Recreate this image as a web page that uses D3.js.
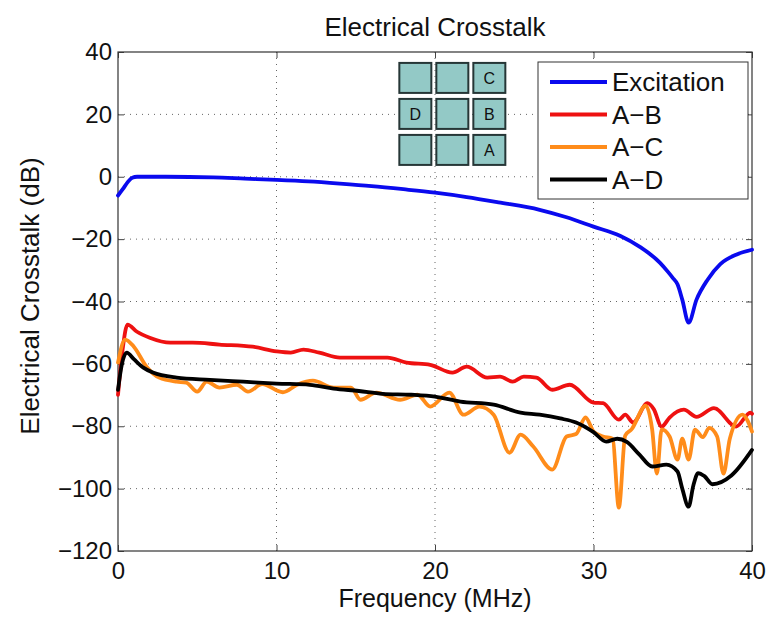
<!DOCTYPE html>
<html>
<head>
<meta charset="utf-8">
<script src="https://cdn.jsdelivr.net/npm/d3@7"></script>
<style>
  body { margin: 0; background: #fff; }
  text { font-family: "Liberation Sans", Arial, sans-serif; fill: #111; }
</style>
</head>
<body>
<div class="chart"></div>
<script>
// values: [frequency MHz, crosstalk dB]
var excitation = [
  [0,-6],[0.3,-4],[0.6,-1.8],[0.9,-0.3],[1.2,0],[3,0],[6,-0.2],[8,-0.6],[10,-1],
  [12,-1.5],[14,-2.2],[16,-3],[18,-4],[20,-5.1],[22,-6.5],[24,-8.2],[26.6,-10.6],
  [28.3,-13],[30,-16],[31.7,-19],[32.9,-22.4],[34.2,-27.6],[34.7,-30.5],[35,-32.4],
  [35.3,-34.5],[35.6,-39.4],[36,-46.8],[36.5,-39.4],[37.2,-33],[38,-28],[39,-25],[40,-23.4]
];
var crossAB = [
  [0,-69.9],[0.3,-55],[0.6,-47.4],[1.2,-49.7],[2,-51.6],[3.3,-53.2],[4.7,-53.2],
  [6.4,-53.8],[8.5,-54.5],[10,-56],[10.9,-56.4],[11.7,-55.4],[12.7,-56.4],[14,-58],
  [15.7,-58],[17,-58],[18.2,-59.6],[19.7,-60.3],[21.1,-62.8],[22,-60.9],[23.3,-64.4],
  [24.1,-64.1],[24.9,-65.7],[25.6,-64.1],[26.4,-64.4],[27.4,-68.3],[28.5,-66.7],
  [30,-72.4],[30.6,-72.6],[31.6,-77.9],[32,-76.3],[32.5,-78.8],[33.4,-72.6],[33.8,-74.5],
  [34.3,-80.1],[34.8,-77.2],[35.7,-74.7],[36.5,-77],[37.6,-74.2],[39,-80.1],[39.9,-75.6],[40,-76]
];
var crossAC = [
  [0,-59.6],[0.45,-52.2],[1,-54.5],[1.8,-60.9],[2.6,-64.4],[3.7,-65.7],[4.3,-66],
  [5,-68.9],[5.6,-65.7],[6.4,-67.6],[7.5,-66.7],[8.2,-68.9],[9.1,-66.5],[10.4,-69.1],
  [11.3,-66.7],[12.3,-65.4],[13.6,-67.6],[14.7,-67.6],[15.3,-71.5],[16.3,-69.2],
  [17.8,-71.5],[18.9,-69.9],[19.7,-73.7],[20.9,-69.2],[21.8,-76.3],[22.8,-73.7],
  [23.7,-76.3],[24.7,-88.5],[25.4,-82.7],[26.2,-86.5],[27.4,-93.9],[28.3,-83.3],
  [28.9,-82.5],[29.5,-77.2],[30,-81.7],[30.6,-83.3],[31.2,-84],[31.6,-106.1],[32,-83],
  [32.4,-81],[33.3,-73.4],[33.7,-81],[34,-95.2],[34.3,-81],[34.8,-83.3],[35.3,-90.7],
  [35.6,-84],[36,-90.7],[36.4,-81.1],[36.9,-83.5],[37.3,-80.5],[37.8,-83.3],[38.2,-95.2],
  [38.6,-84],[39.4,-76.3],[39.7,-78],[40,-81.7]
];
var crossAD = [
  [0,-68.3],[0.25,-60],[0.55,-56.4],[1,-58.5],[1.6,-61.2],[2.2,-62.8],[3.7,-64.4],
  [5.8,-65.1],[7.9,-65.7],[10,-66.3],[12.1,-66.7],[13.6,-67.9],[15.2,-68.7],[16.7,-69.6],
  [18.5,-69.9],[20,-70.5],[21.6,-72.1],[23.7,-73.1],[25.4,-75.6],[26.6,-76.3],[27.9,-77.5],
  [28.9,-78.8],[30,-81.9],[30.8,-84.9],[31.5,-84],[32.1,-85],[32.9,-89.1],[33.7,-92.9],
  [34.6,-92.3],[35.3,-94.5],[35.6,-100],[36,-105.8],[36.3,-99],[36.6,-95],[37,-96],
  [37.5,-98.6],[38.7,-95.8],[40,-87.6]
];
var seriesNames = ["Excitation", "A\u2212B", "A\u2212C", "A\u2212D"];
var seriesColors = ["#0a0aee", "#ee1111", "#ff8c1a", "#000000"];
var xTicks = [0, 10, 20, 30, 40];
var yTicks = [40, 20, 0, -20, -40, -60, -80, -100, -120];
// 3x3 element inset, row by row
var insetLabels = ["", "", "C", "D", "", "B", "", "", "A"];

var W = 771, H = 626;
var margin = {top: 52, right: 19, bottom: 75, left: 118};
var width = W - margin.left - margin.right,
    height = H - margin.top - margin.bottom;

var svg = d3.select("div.chart").append("svg")
    .attr("width", W).attr("height", H);

var x = d3.scaleLinear().domain([0, 40]).range([0, width]);
var y = d3.scaleLinear().domain([-120, 40]).range([height, 0]);

var g = svg.append("g")
    .attr("transform", "translate(" + margin.left + "," + margin.top + ")");

// dotted grid
g.append("g").selectAll("line")
  .data(xTicks.slice(1, -1))
  .enter().append("line")
    .attr("x1", function(d) { return x(d); })
    .attr("x2", function(d) { return x(d); })
    .attr("y1", 0).attr("y2", height)
    .attr("stroke", "#666").attr("stroke-width", 1)
    .attr("stroke-dasharray", "1,5");
g.append("g").selectAll("line")
  .data(yTicks.slice(1, -1))
  .enter().append("line")
    .attr("y1", function(d) { return y(d); })
    .attr("y2", function(d) { return y(d); })
    .attr("x1", 0).attr("x2", width)
    .attr("stroke", "#666").attr("stroke-width", 1)
    .attr("stroke-dasharray", "1,5");

// axes, ticks pointing inward like matlab
function styleAxis(sel, fs) {
  sel.select(".domain").remove();
  sel.selectAll(".tick line").attr("stroke", "#444");
  sel.selectAll(".tick text").attr("font-size", fs).attr("fill", "#111")
    .style("font-family", "'Liberation Sans', Arial, sans-serif");
}
g.append("g")
    .attr("transform", "translate(0," + height + ")")
    .call(d3.axisBottom(x).tickValues(xTicks).tickSizeInner(-6).tickSizeOuter(0).tickPadding(11))
    .call(styleAxis, 24);
g.append("g")
    .call(d3.axisLeft(y).tickValues(yTicks).tickSizeInner(-6).tickSizeOuter(0).tickPadding(6)
      .tickFormat(function(d) { return d < 0 ? "\u2212" + Math.abs(d) : d; }))
    .call(styleAxis, 24);
g.append("g")
    .call(d3.axisTop(x).tickValues(xTicks).tickSizeInner(-6).tickSizeOuter(0).tickFormat(""))
    .call(styleAxis, 24);
g.append("g")
    .attr("transform", "translate(" + width + ",0)")
    .call(d3.axisRight(y).tickValues(yTicks).tickSizeInner(-6).tickSizeOuter(0).tickFormat(""))
    .call(styleAxis, 24);

g.append("rect")
    .attr("width", width).attr("height", height)
    .attr("fill", "none").attr("stroke", "#333").attr("stroke-width", 1.2);

// curves
var line = d3.line()
    .curve(d3.curveMonotoneX)
    .x(function(d) { return x(d[0]); })
    .y(function(d) { return y(d[1]); });

var allSeries = [excitation, crossAB, crossAC, crossAD];
g.append("g").selectAll("path")
  .data(allSeries)
  .enter().append("path")
    .attr("fill", "none")
    .attr("stroke", function(d, i) { return seriesColors[i]; })
    .attr("stroke-width", 3.8)
    .attr("stroke-linejoin", "round")
    .attr("stroke-linecap", "round")
    .attr("d", line);

// inset of the 3x3 element array
var inset = g.append("g")
    .attr("transform", "translate(" + x(17.75) + "," + y(36.5) + ")");
var cell = inset.selectAll("g")
  .data(insetLabels)
  .enter().append("g")
    .attr("transform", function(d, i) {
      return "translate(" + (i % 3) * 37 + "," + Math.floor(i / 3) * 36 + ")";
    });
cell.append("rect")
    .attr("width", 32).attr("height", 30)
    .attr("fill", "#93c9c6").attr("stroke", "#263636").attr("stroke-width", 2);
cell.append("text")
    .attr("x", 16).attr("y", 21)
    .attr("text-anchor", "middle")
    .attr("font-size", 16)
    .attr("fill", "#1a2a2a")
    .text(function(d) { return d; });

// legend
var legend = g.append("g")
    .attr("transform", "translate(" + (538 - margin.left) + "," + (62 - margin.top) + ")");
legend.append("rect")
    .attr("width", 210).attr("height", 137)
    .attr("fill", "#fff").attr("stroke", "#333").attr("stroke-width", 1);
var item = legend.selectAll("g.item")
  .data(seriesNames)
  .enter().append("g")
    .attr("class", "item")
    .attr("transform", function(d, i) { return "translate(0," + (20 + i * 32.5) + ")"; });
item.append("line")
    .attr("x1", 12).attr("x2", 69)
    .attr("stroke", function(d, i) { return seriesColors[i]; })
    .attr("stroke-width", 3.8);
item.append("text")
    .attr("x", 74).attr("dy", "0.35em")
    .attr("font-size", 26)
    .text(function(d) { return d; });

// labels
svg.append("text")
    .attr("x", margin.left + width / 2).attr("y", 36)
    .attr("text-anchor", "middle").attr("font-size", 26)
    .text("Electrical Crosstalk");
svg.append("text")
    .attr("x", margin.left + width / 2).attr("y", 607)
    .attr("text-anchor", "middle").attr("font-size", 25)
    .text("Frequency (MHz)");
svg.append("text")
    .attr("transform", "translate(39,296) rotate(-90)")
    .attr("text-anchor", "middle").attr("font-size", 26)
    .text("Electrical Crosstalk (dB)");
</script>
</body>
</html>
